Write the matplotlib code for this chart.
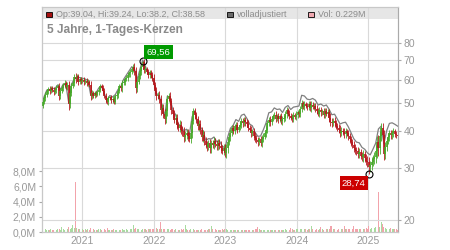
import numpy as np
import pandas as pd
import matplotlib
matplotlib.use('Agg')
import matplotlib.pyplot as plt
import matplotlib.dates as mdates
from matplotlib.patches import Rectangle
from matplotlib.ticker import FixedLocator, NullLocator, NullFormatter

plt.rcParams['font.family'] = ['Liberation Sans', 'DejaVu Sans']

# weekly closes (EUR)
closes = [
    49.0, 50.5, 52.0, 53.2, 54.8, 55.6, 54.9, 56.2, 55.4, 54.6,
    55.5, 56.4, 57.0, 52.8, 55.0, 56.3, 57.4, 58.6, 56.8, 57.5,
    49.5, 54.0, 57.2, 58.3, 61.2, 60.4, 61.6, 59.0, 60.3, 59.4,
    60.0, 58.8, 59.6, 58.4, 59.0, 57.6, 52.8, 54.2, 53.0, 54.0,
    53.4, 54.6, 55.5, 57.0, 56.2, 55.0, 53.0, 51.0, 50.4, 51.8,
    52.2, 51.0, 51.6, 50.5, 52.6, 53.4, 54.8, 56.9, 56.0, 58.5,
    59.0, 60.2, 61.0, 62.4, 63.0, 63.8, 65.2, 66.5, 64.0, 56.0,
    59.0, 61.8, 64.0, 66.2, 68.8, 64.5, 65.4, 63.6, 62.2, 63.4,
    62.0, 60.8, 57.5, 55.0, 52.6, 53.4, 51.6, 47.4, 48.2, 46.0,
    44.0, 46.8, 51.5, 52.8, 50.6, 47.2, 46.0, 43.8, 44.5, 42.0,
    41.2, 42.2, 40.4, 40.0, 38.2, 39.0, 39.5, 38.6, 37.8, 39.5,
    43.5, 46.8, 45.6, 44.0, 41.6, 42.4, 40.3, 38.2, 39.0, 37.2,
    36.0, 35.4, 36.5, 35.0, 36.4, 36.0, 37.0, 36.2, 35.6, 36.6,
    35.8, 35.0, 34.4, 35.2, 33.8, 35.0, 36.9, 38.2, 39.5, 41.0,
    40.2, 41.6, 42.0, 40.6, 41.4, 42.2, 43.4, 42.6, 43.8, 43.0,
    42.4, 41.2, 40.6, 39.4, 40.0, 38.5, 38.0, 37.4, 36.8, 37.6,
    36.6, 37.8, 38.4, 39.4, 40.6, 42.6, 43.9, 43.0, 44.2, 45.0,
    45.6, 44.2, 45.0, 44.0, 45.2, 43.4, 44.0, 44.6, 45.8, 47.2,
    46.0, 45.2, 44.6, 44.2, 45.4, 44.8, 45.6, 46.4, 45.8, 47.8,
    49.9, 48.6, 49.6, 49.0, 48.4, 49.6, 48.2, 49.2, 48.6, 48.8,
    47.8, 47.0, 46.0, 47.2, 46.4, 46.8, 45.6, 47.0, 46.0, 46.4,
    44.5, 43.2, 42.6, 43.4, 42.8, 41.8, 41.2, 40.6, 39.6, 40.2,
    39.8, 39.2, 40.0, 39.4, 38.6, 37.6, 36.8, 36.0, 35.2, 34.6,
    34.2, 33.6, 34.0, 33.0, 32.8, 33.4, 32.4, 31.8, 31.4, 30.2,
    30.8, 31.6, 32.2, 32.8, 34.4, 36.8, 35.0, 38.6, 41.2, 39.0,
    33.6, 35.4, 37.2, 38.4, 39.4, 38.8, 39.6, 40.0, 39.2, 39.0, 38.58,
]
first_open = 48.5

# how far the weekly wicks reach beyond the body (EUR)
wicks = [
    1.2, 0.8, 1.0, 1.4, 0.9, 1.1, 1.3, 0.8, 1.0, 1.2,
    0.9, 1.3, 1.0, 1.6, 1.1, 0.9, 1.2, 1.4, 1.0, 1.3,
    2.0, 1.5, 1.2, 1.0, 1.4, 1.8, 1.1, 1.3, 0.9, 1.2,
    1.0, 1.2, 0.9, 1.1, 1.3, 1.0, 1.6, 1.2, 0.9, 1.1,
    1.0, 0.8, 1.2, 1.1, 0.9, 1.3, 1.0, 1.2, 0.9, 1.1,
    0.8, 1.0, 1.2, 0.9, 1.1, 1.0, 1.3, 0.9, 1.2, 1.4,
    1.1, 1.3, 1.0, 1.4, 1.2, 1.5, 1.1, 1.3, 1.6, 2.0,
    1.5, 1.2, 1.4, 1.6, 0.76, 1.5, 1.3, 1.1, 1.4, 1.2,
    1.3, 1.5, 1.8, 1.4, 1.6, 1.2, 1.5, 1.8, 1.3, 1.5,
    1.6, 1.4, 1.8, 1.2, 1.5, 1.3, 1.4, 1.2, 1.5, 1.3,
    1.2, 1.4, 1.1, 1.3, 1.5, 1.0, 1.2, 1.4, 1.1, 1.3,
    1.6, 1.2, 1.4, 1.1, 1.3, 1.5, 1.2, 1.0, 1.3, 1.1,
    1.0, 1.2, 0.9, 1.3, 1.1, 1.0, 1.2, 0.9, 1.1, 1.0,
    1.0, 1.2, 0.9, 1.1, 1.0, 1.2, 1.1, 0.9, 1.2, 1.0,
    1.1, 0.9, 1.2, 1.0, 0.8, 1.1, 1.0, 1.2, 0.9, 1.1,
    1.0, 1.2, 0.9, 1.1, 0.8, 1.0, 1.2, 0.9, 1.0, 0.8,
    0.9, 1.1, 1.0, 0.8, 1.2, 1.0, 0.9, 1.1, 1.0, 0.8,
    1.0, 1.2, 0.9, 1.1, 0.8, 1.0, 1.2, 0.9, 1.1, 1.3,
    1.0, 1.2, 0.9, 1.1, 1.0, 0.8, 1.2, 1.0, 0.9, 1.1,
    1.3, 1.0, 1.2, 0.9, 1.1, 1.0, 1.3, 1.6, 1.0, 1.2,
    1.1, 1.3, 1.0, 1.2, 1.4, 1.0, 1.2, 1.1, 0.9, 1.2,
    1.4, 1.6, 1.2, 1.0, 1.3, 1.1, 1.0, 1.2, 1.4, 1.1,
    1.0, 1.3, 1.1, 0.9, 1.2, 1.0, 1.1, 0.9, 1.2, 1.0,
    0.9, 1.1, 1.0, 0.8, 1.0, 1.2, 0.9, 1.0, 1.1, 1.45,
    1.0, 1.2, 1.1, 1.3, 1.5, 1.8, 2.0, 1.5, 1.4, 1.6,
    1.5, 1.3, 1.2, 1.0, 1.2, 1.1, 1.0, 1.2, 0.9, 1.0, 0.7,
]

# fully adjusted line, every second week
adjusted = [
    49.5, 52.5, 55.3, 55.5, 56.0, 56.0, 57.6, 55.6, 58.0, 57.4,
    50.1, 57.9, 60.2, 60.9, 61.0, 60.7, 60.3, 59.7, 53.4, 53.6,
    54.2, 56.3, 57.0, 53.8, 51.2, 53.0, 52.4, 53.4, 55.6, 56.8,
    60.1, 62.1, 64.1, 66.4, 65.2, 60.1, 65.2, 70.0, 66.6, 63.3,
    63.6, 58.9, 53.9, 52.9, 49.4, 45.1, 52.8, 51.9, 47.2, 45.6,
    42.4, 41.6, 40.2, 40.7, 38.9, 44.8, 47.0, 42.8, 41.5, 40.2,
    37.3, 37.8, 37.7, 38.3, 36.9, 37.1, 35.7, 35.1, 38.3, 41.0,
    42.0, 43.9, 43.3, 45.4, 45.8, 44.3, 42.4, 41.8, 39.7, 38.5,
    38.6, 40.5, 42.8, 46.3, 46.6, 48.1, 47.5, 47.7, 46.4, 48.3,
    49.0, 47.5, 48.4, 48.6, 48.8, 53.1, 52.8, 51.5, 51.3, 51.8,
    51.1, 49.2, 49.6, 48.8, 49.2, 47.6, 45.6, 45.8, 44.1, 42.4,
    42.8, 43.0, 41.5, 39.6, 37.8, 36.8, 36.6, 35.3, 34.8, 33.8,
    33.3, 34.8, 36.5, 40.8, 41.7, 36.3, 40.2, 42.6, 42.8, 42.3, 41.7,
]

# volume in millions
volumes = [
    0.45, 0.35, 0.30, 0.40, 0.28, 0.32, 0.25, 0.38, 0.30, 0.27,
    0.33, 0.29, 0.36, 0.42, 0.30, 0.70, 0.35, 0.28, 0.40, 0.33,
    0.60, 0.45, 0.50, 0.90, 0.55, 6.60, 0.50, 0.38, 0.45, 0.30,
    0.42, 0.28, 0.35, 0.30, 0.45, 0.32, 0.50, 0.60, 0.35, 0.28,
    0.30, 0.25, 0.33, 0.40, 0.27, 0.30, 0.35, 0.28, 0.55, 0.30,
    0.26, 0.32, 0.28, 0.35, 0.25, 0.30, 0.45, 0.27, 0.32, 0.38,
    0.30, 0.28, 0.35, 0.30, 0.40, 0.33, 0.45, 0.90, 0.35, 0.50,
    0.40, 0.35, 0.45, 0.30, 0.38, 0.42, 0.33, 0.30, 0.36, 0.40,
    0.35, 0.40, 0.45, 0.90, 0.50, 0.45, 0.40, 1.35, 0.45, 0.38,
    0.40, 0.35, 0.45, 0.38, 0.30, 0.42, 0.35, 0.30, 0.38, 0.32,
    0.30, 0.28, 0.35, 0.30, 0.40, 0.90, 0.35, 0.30, 0.28, 0.33,
    0.40, 0.35, 0.30, 0.28, 0.32, 0.25, 0.30, 0.35, 0.28, 0.30,
    0.26, 0.30, 0.35, 0.40, 0.85, 0.45, 0.80, 0.35, 0.30, 0.28,
    0.32, 0.28, 0.35, 0.30, 0.40, 0.33, 0.28, 0.30, 0.25, 0.30,
    0.28, 0.25, 0.30, 0.27, 0.32, 0.25, 0.28, 0.30, 0.26, 0.24,
    0.25, 0.28, 0.30, 0.26, 0.24, 0.30, 0.35, 0.40, 0.70, 0.35,
    0.30, 0.28, 0.25, 0.30, 0.27, 0.32, 0.25, 0.28, 0.30, 0.26,
    0.28, 0.25, 0.30, 0.27, 0.32, 0.25, 0.30, 0.28, 0.35, 0.30,
    0.32, 0.30, 0.55, 0.35, 0.30, 0.28, 0.40, 0.33, 0.30, 0.35,
    0.45, 0.35, 0.40, 0.38, 0.30, 0.35, 0.40, 0.75, 0.35, 0.30,
    0.32, 0.35, 0.30, 0.40, 0.60, 0.35, 0.30, 0.45, 0.38, 0.35,
    0.40, 0.80, 0.85, 0.45, 0.35, 0.40, 0.30, 0.35, 0.45, 0.38,
    0.35, 0.75, 0.40, 0.35, 0.45, 0.38, 0.35, 0.40, 0.80, 0.45,
    0.35, 0.40, 0.45, 0.38, 0.42, 0.45, 0.40, 0.50, 0.45, 0.75,
    0.45, 0.50, 0.40, 0.55, 0.60, 0.50, 5.20, 0.60, 1.35, 1.10,
    0.60, 0.50, 0.45, 0.55, 0.40, 0.50, 0.45, 0.40, 0.38, 0.35, 0.30,
]

dates = pd.date_range('2020-06-05', periods=len(closes), freq='7D')
adj_dates = dates[::2]

price_ticks = [20, 30, 40, 50, 60, 70, 80]
vol_ticks = [0, 2, 4, 6, 8]
vol_labels = ['0,0M', '2,0M', '4,0M', '6,0M', '8,0M']
years = [2021, 2022, 2023, 2024, 2025]

hi_val, hi_idx = 69.56, 74
lo_val, lo_idx = 28.74, 239
title = '5 Jahre, 1-Tages-Kerzen'
legend_ohlc = 'Op:39.04, Hi:39.24, Lo:38.2, Cl:38.58'
legend_adj = 'volladjustiert'
legend_vol = 'Vol: 0.229M'

red = '#b5161b'
green = '#46a829'
grey_txt = '#999999'
grid_c = '#d9d9d9'

opens = [first_open] + closes[:-1]
up = [c >= o for o, c in zip(opens, closes)]
body_lo = [min(o, c) for o, c in zip(opens, closes)]
body_hi = [max(o, c) for o, c in zip(opens, closes)]
lows = [b - w for b, w in zip(body_lo, wicks)]
highs = [b + w for b, w in zip(body_hi, wicks)]
cols = [green if u else red for u in up]

fig = plt.figure(figsize=(4.5, 2.5), dpi=100)
L, R, T, B = 41.7, 398, 7, 232
axv = fig.add_axes([L / 450, 1 - B / 250, (R - L) / 450, (B - T) / 250])
axp = axv.twinx()

# volume (left axis)
axv.bar(dates, volumes, width=4.5,
        color=['#a9dba0' if u else '#f2a3ab' for u in up], linewidth=0)
axv.set_ylim(0, (B - T) / 7.62)
axv.yaxis.set_major_locator(FixedLocator(vol_ticks))
axv.set_yticklabels(vol_labels)
axv.set_axisbelow(True)
axv.grid(axis='x', color=grid_c, lw=0.8)
axv.add_patch(Rectangle((0, 1 - 12 / 225), 1, 12 / 225, transform=axv.transAxes,
                        fc='#e6e6e6', ec='none', zorder=0.2))

# price (right axis, log)
axp.set_yscale('log')
axp.plot(adj_dates, adjusted, color='#808080', lw=0.9, zorder=2)
axp.vlines(dates, lows, highs, colors=cols, lw=0.6, zorder=3)
axp.vlines(dates, body_lo, body_hi, colors=cols, lw=1.2, zorder=3)
axp.set_ylim(18.2, 106)
axp.yaxis.set_major_locator(FixedLocator(price_ticks))
axp.yaxis.set_minor_locator(NullLocator())
axp.yaxis.set_minor_formatter(NullFormatter())
axp.set_yticklabels([str(t) for t in price_ticks])
axp.set_axisbelow(True)
axp.grid(axis='y', color=grid_c, lw=0.8)

axv.set_xlim(pd.Timestamp('2020-06-07'), pd.Timestamp('2025-06-01'))
axv.xaxis.set_major_locator(FixedLocator([mdates.date2num(pd.Timestamp(f'{y}-01-01')) for y in years]))
axv.set_xticklabels([str(y) for y in years])

for ax in (axv, axp):
    for s in ax.spines.values():
        s.set_color('#c8c8c8')
        s.set_linewidth(0.8)
    ax.tick_params(colors='#aaaaaa', labelcolor=grey_txt, labelsize=7.5, length=2.5, width=0.8, pad=1.5)
axv.spines['left'].set_color('#aaaaaa')
axp.spines['right'].set_color('#aaaaaa')
axv.tick_params(axis='x', length=0, pad=3)

# high / low markers
for idx, val, txt, fc, off, ha in [(hi_idx, hi_val, '69,56', '#009a00', (4, 8.5), 'left'),
                                   (lo_idx, lo_val, '28,74', '#cc0000', (-3, -9.5), 'right')]:
    axp.plot(dates[idx], val, 'o', ms=5, mfc='none', mec='black', mew=0.8, zorder=5)
    axp.annotate(txt, xy=(dates[idx], val), xytext=off, textcoords='offset pixels',
                 ha=ha, va='center', fontsize=6.8, color='white', zorder=6,
                 bbox=dict(boxstyle='square,pad=0.25', fc=fc, ec='none'))

# header
fig.text(47 / 450, 1 - 30 / 250, title, fontsize=8.6, fontweight='bold', color='#8a8a8a',
         ha='left', va='center')
for x0, fc, txt in [(46, '#a50f0f', legend_ohlc), (227, '#6a6a6a', legend_adj),
                    (308, '#f0a8b0', legend_vol)]:
    fig.add_artist(Rectangle((x0 / 450, 1 - 17 / 250), 5.5 / 450, 5.5 / 250,
                             transform=fig.transFigure, fc=fc, ec='black', lw=0.6))
    fig.text((x0 + 10) / 450, 1 - 14.2 / 250, txt, fontsize=6.5, color='#8c8c8c',
             ha='left', va='center')

fig.savefig('out.png', dpi=100)
